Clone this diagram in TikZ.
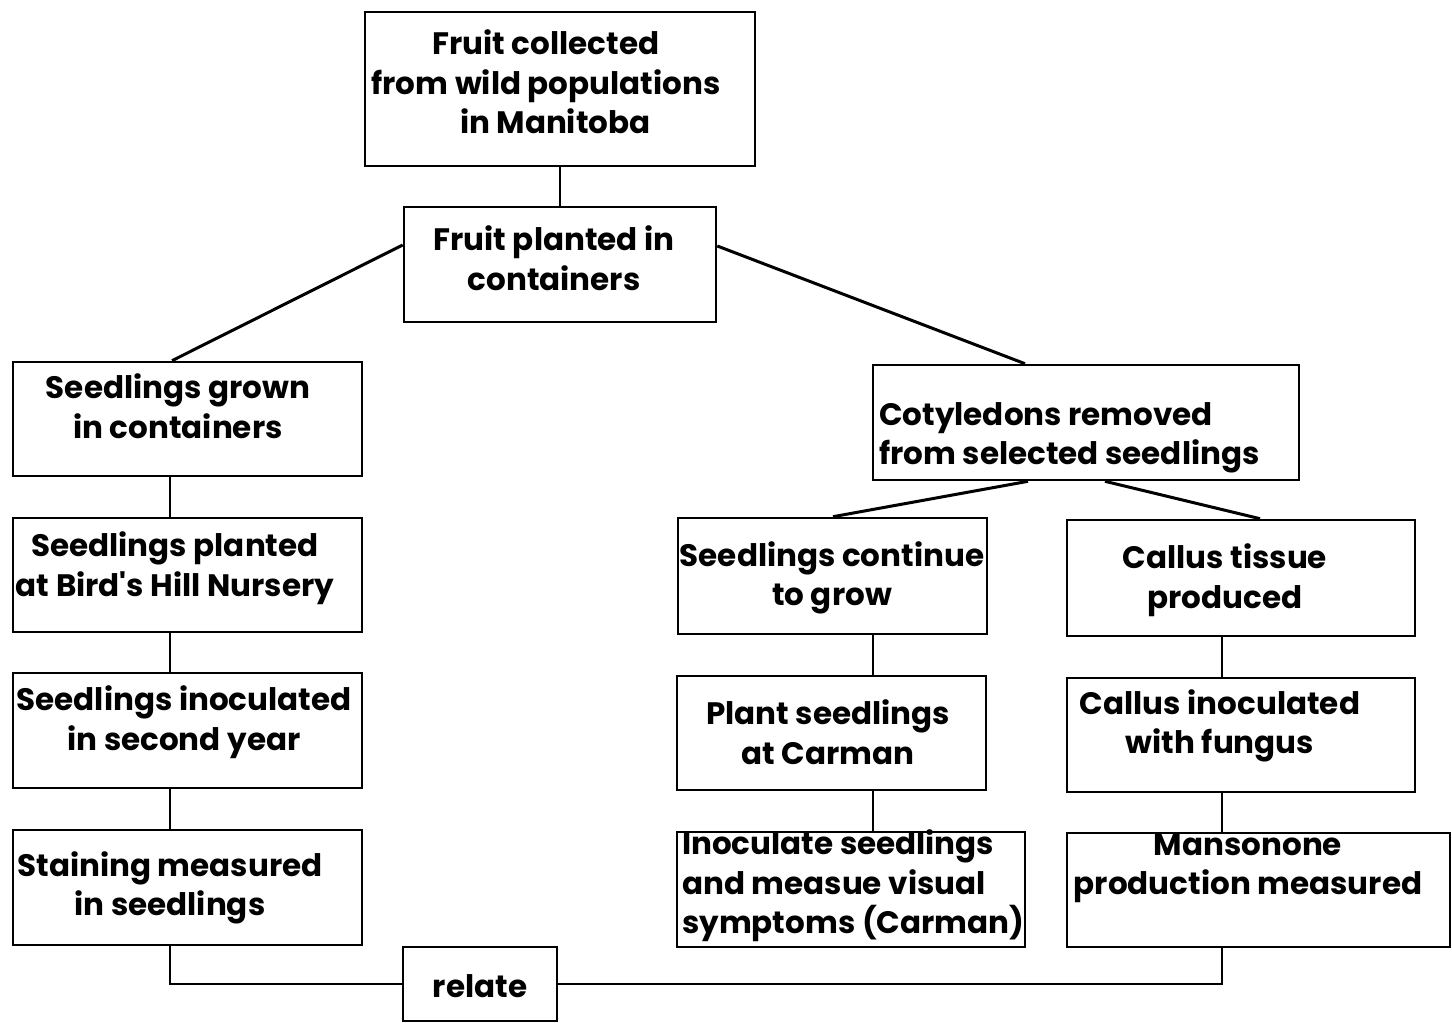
\documentclass[tikz,border=0pt]{standalone}
\usepackage{fontspec}
\newfontfamily\pop{Poppins}
\begin{document}
\begin{tikzpicture}[x=1pt,y=-1pt,
  lbl/.style={font=\pop\bfseries\fontsize{31}{39.5}\selectfont,inner sep=0pt,align=center},
  lbll/.style={font=\pop\bfseries\fontsize{31}{39.5}\selectfont,inner sep=0pt,align=left,anchor=west},
  conn/.style={line width=1.8pt},
  diag/.style={line width=3pt}]
\useasboundingbox (0,0) rectangle (1452,1023);
\newcommand{\bx}[5]{\node[draw=black,line width=2.6pt,inner sep=0pt,minimum width={#4-#2},minimum height={#5-#3}] (#1) at ({(#2+#4)/2},{(#3+#5)/2}) {};}
\bx{b1}{365}{12}{755}{166}
\bx{b2}{404}{207}{716}{322}
\bx{l1}{13}{362}{362}{476}
\bx{l2}{13}{518}{362}{632}
\bx{l3}{13}{673}{362}{788}
\bx{l4}{13}{830}{362}{945}
\bx{rel}{403}{947}{557}{1021}
\bx{cot}{873}{365}{1299}{480}
\bx{sc}{678}{518}{987}{634}
\bx{ps}{677}{676}{986}{790}
\bx{ino}{677}{832}{1025}{947}
\bx{ct}{1067}{520}{1415}{636}
\bx{ci}{1067}{678}{1415}{792}
\bx{mn}{1067}{833}{1450}{947}
% texts
\node[lbl] (t1) at (546,82) {Fruit collected\\from wild populations\\\hspace*{0.6em}in Manitoba};
\node[lbl] (t2) at (554,258) {Fruit planted in\\containers};
\node[lbl] (tl1) at (178,406) {Seedlings grown\\in containers};
\node[lbl] (tl2) at (175,568) {Seedlings planted\\at Bird's Hill Nursery};
\node[lbl] (tl3) at (184,722) {Seedlings inoculated\\in second year};
\node[lbl] (tl4) at (170,888) {Staining measured\\in seedlings};
\node[lbl] (trel) at (480,986) {relate};
\node[lbll] (tcot) at (879,438) {Cotyledons removed\\from selected seedlings};
\node[lbl] (tsc) at (832,578) {Seedlings continue\\to grow};
\node[lbl] (tps) at (828,732) {Plant seedlings\\at Carman};
\node[lbll] (tino) at (682,886) {Inoculate seedlings\\and measue visual\\symptoms (Carman)};
\node[lbl] (tct) at (1225,580) {Callus tissue\\produced};
\node[lbl] (tci) at (1220,726) {Callus inoculated\\with fungus};
\node[lbl] (tmn) at (1248,868) {Mansonone\\production measured};
% column coordinates
\coordinate (lc) at (170,0);
\coordinate (rc1) at (873,0);
\coordinate (rc2) at (1222,0);
% connectors
\draw[conn] (b1.south) -- (b2.north);
\draw[diag] ([yshift=19.5pt]b2.west) -- ([xshift=-15.5pt]l1.north);
\draw[diag] ([yshift=18.5pt]b2.east) -- ([xshift=-61pt]cot.north);
\draw[conn] (l1.south -| lc) -- (l2.north -| lc);
\draw[conn] (l2.south -| lc) -- (l3.north -| lc);
\draw[conn] (l3.south -| lc) -- (l4.north -| lc);
\draw[diag] ([xshift=-58pt]cot.south) -- ([xshift=0.5pt]sc.north);
\draw[diag] ([xshift=19pt]cot.south) -- ([xshift=19pt]ct.north);
\draw[conn] (sc.south -| rc1) -- (ps.north -| rc1);
\draw[conn] (ps.south -| rc1) -- (ino.north -| rc1);
\draw[conn] (ct.south -| rc2) -- (ci.north -| rc2);
\draw[conn] (ci.south -| rc2) -- (mn.north -| rc2);
\draw[conn] (l4.south -| lc) |- (rel.west);
\draw[conn] (rel.east) -| (mn.south -| rc2);
\end{tikzpicture}
\end{document}
